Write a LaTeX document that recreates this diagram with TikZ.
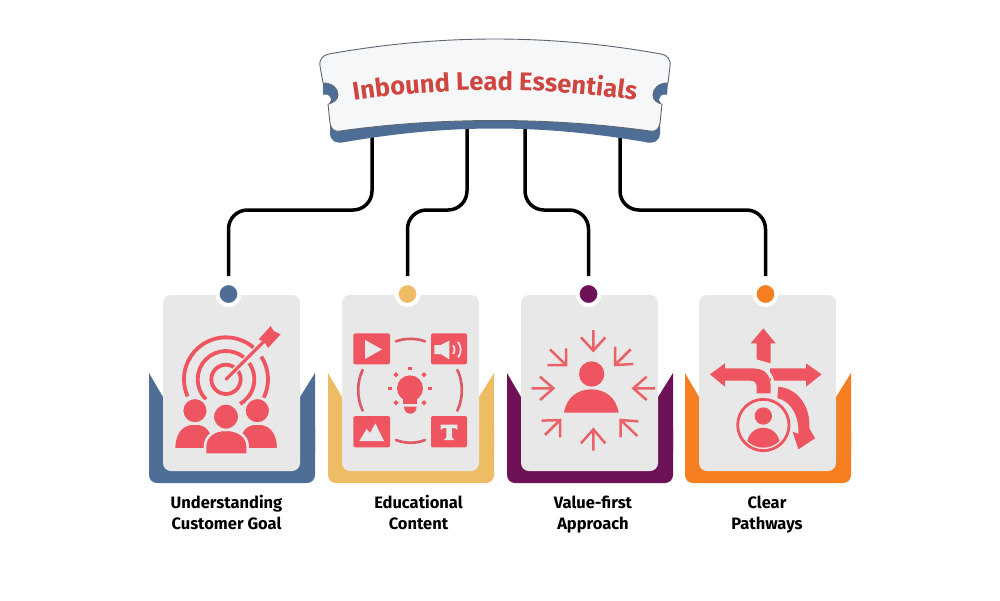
\documentclass[tikz,border=0pt]{standalone}
\usepackage{fontspec}
\setmainfont{Fira Sans}
\usetikzlibrary{decorations.text}
\definecolor{iconred}{HTML}{EF5560}
\definecolor{arrowred}{HTML}{EA6268}
\definecolor{titlered}{HTML}{CF4540}
\definecolor{cardgray}{HTML}{E8E8E8}
\definecolor{goalblue}{HTML}{4F6E96}
\definecolor{contentyellow}{HTML}{EFBC66}
\definecolor{valuepurple}{HTML}{6E1258}
\definecolor{pathorange}{HTML}{F57F20}
\definecolor{bannerfill}{HTML}{F6F7F8}
\definecolor{banneredge}{HTML}{5C6570}
\tikzset{
dotmark/.style={circle, draw=white, line width=4pt, minimum size=22pt, inner sep=0pt},
caption/.style={align=center, font=\fontsize{16.5}{21}\selectfont\bfseries},
icon/.style={fill=iconred},
iconcut/.style={fill=iconred, draw=cardgray, line width=2.6pt},
ring/.style={draw=iconred, line width=3.8pt},
thinring/.style={draw=iconred!85!gray, line width=2.7pt, line cap=round},
inarrow/.style={draw=arrowred, line width=2.5pt},
gapshape/.style={fill=cardgray},
zoomed/.style={x=0.33333pt, y=-0.33333pt}
      }
\tikzstyle{link} = [line width=3.5pt, black, rounded corners=19pt, shorten >=5pt]

\begin{document}
\begin{tikzpicture}[x=1pt, y=-1pt]
    \useasboundingbox (0,0) rectangle (1000,600);
    \fill[white] (0,0) rectangle (1000,600);
    % cards
    \foreach \n/\x/\d/\c in {1/163/228.5/goalblue, 2/342/407.5/contentyellow, 3/521/588.5/valuepurple, 4/699/765.5/pathorange} {
        \fill[\c, rounded corners=8pt] (\x-14,420) rectangle (\x+152,483);
        \fill[\c] (\x-14,373) -- (\x-14,450) -- (\x+152,450) -- (\x+152,373) -- (\x+137,397) -- (\x,397) -- cycle;
        \fill[cardgray, rounded corners=8pt] (\x,295) rectangle (\x+137,471);
        \node[dotmark, fill=\c] (dot\n) at (\d,294) {};
    }
    % connectors
    \coordinate (top1) at (372,125);
    \coordinate (top2) at (467,115);
    \coordinate (top3) at (525,115);
    \coordinate (top4) at (620,125);
    \coordinate (bendy) at (0,210);
    \foreach \n in {1,...,4}
        \draw[link] (top\n) |- (bendy -| dot\n) -- (dot\n.north);
    % banner
    \fill[goalblue] (323,83) -- (323,95) -- (330,104) -- (330,134) .. controls (331,142) and (337,144) .. (345,142) .. controls (450,124) and (540,124) .. (645,142) .. controls (653,144) and (659,142) .. (660,134) -- (660,104) -- (667,95) -- (668,83) -- cycle;
    \draw[banneredge, fill=bannerfill, line width=0.9pt] (320,66) .. controls (319,59) and (323,55) .. (329,54) .. controls (440,34) and (550,34) .. (661,54) .. controls (667,55) and (671,59) .. (670,66) -- (668,83) .. controls (659,83) and (653,88) .. (653,95) .. controls (653,100) and (657,103) .. (662,104) -- (660,123) .. controls (659,129) and (656,132) .. (650,131) .. controls (550,117) and (440,117) .. (340,131) .. controls (334,132) and (331,129) .. (330,123) -- (328,104) .. controls (333,103) and (338,100) .. (338,95) .. controls (338,88) and (332,83) .. (323,83) -- cycle;
    \fill[white] (325,99.5) ellipse[x radius=6, y radius=5];
    \fill[white] (665,99.5) ellipse[x radius=6, y radius=5];
    \path[decorate, decoration={text along path, text align=center,
        text={|\fontsize{25.5}{26}\selectfont\bfseries\color{titlered}|Inbound Lead Essentials}}]
        (340,103) .. controls (440,86) and (550,86) .. (650,103);
    % target icon
    \begin{scope}[shift={(140,280)}, zoomed]
        \coordinate (aim) at (258,298);
        \draw[ring] ([shift={(156:126)}]aim) arc (156:313:126);
        \draw[ring] ([shift={(327:126)}]aim) arc (327:386:126);
        \draw[ring] ([shift={(135:85)}]aim) arc (135:310:85);
        \draw[ring] ([shift={(325:85)}]aim) arc (325:420:85);
        \draw[ring] ([shift={(325:44)}]aim) arc (325:665:44);
        \draw[draw=cardgray, line width=6pt] (aim) -- (372,184);
        \draw[draw=iconred, line width=3.2pt, line cap=round] (aim) -- (375,181);
        \fill[icon] (356,178) -- (392,138) -- (401,153) -- (422,163) -- (384,204) -- (374,186) -- cycle;
        \path[iconcut] (102,508) .. controls (102,450) and (130,430) .. (165,430) .. controls (200,430) and (222,450) .. (222,508) -- cycle;
        \path[iconcut] (415,508) .. controls (415,450) and (387,430) .. (352,430) .. controls (317,430) and (295,450) .. (295,508) -- cycle;
        \path[iconcut] (165,392) circle[radius=39];
        \path[iconcut] (352,392) circle[radius=39];
        \path[iconcut] (195,524) -- (195,500) .. controls (195,466) and (225,449) .. (258,449) .. controls (292,449) and (323,466) .. (323,500) -- (323,524) -- cycle;
        \path[iconcut] (258,410) circle[radius=40];
    \end{scope}
    % content icon
    \begin{scope}[shift={(320,280)}, zoomed]
        \fill[icon, rounded corners=2pt] (100,160) rectangle (210,253);
        \fill[icon, rounded corners=2pt] (333,160) rectangle (441,253);
        \fill[icon, rounded corners=2pt] (100,408) rectangle (210,502);
        \fill[icon, rounded corners=2pt] (333,408) rectangle (441,502);
        \fill[gapshape] (135,180) -- (135,237) -- (186,208) -- cycle;
        \fill[gapshape] (343,195) -- (362,195) -- (388,182) -- (388,238) -- (362,222) -- (343,222) -- cycle;
        \draw[cardgray, line width=1.8pt] (399,196) .. controls (405,203) and (405,215) .. (399,222);
        \draw[cardgray, line width=1.8pt] (414,186) .. controls (425,200) and (425,218) .. (414,232);
        \fill[gapshape] (118,483) -- (140,447) -- (150,459) -- (166,430) -- (192,483) -- cycle;
        \fill[gapshape] (362,434) -- (412,434) -- (412,450) -- (404,444) -- (396,444) -- (396,472) -- (403,480) -- (372,480) -- (379,472) -- (379,444) -- (370,444) -- (362,450) -- cycle;
        \draw[thinring] (228,184) .. controls (255,174) and (288,174) .. (315,184);
        \draw[thinring] (228,480) .. controls (255,491) and (288,491) .. (315,480);
        \draw[thinring] (128,270) .. controls (110,305) and (110,355) .. (128,392);
        \draw[thinring] (412,270) .. controls (430,305) and (430,355) .. (412,392);
        \fill[icon] (270,325) circle[radius=39];
        \fill[icon] (250,350) rectangle (290,372);
        \fill[icon] (252,380) -- (290,380) .. controls (290,395) and (280,401) .. (271,401) .. controls (262,401) and (252,395) .. (252,380) -- cycle;
        \foreach \rx/\ry in {270/265, 210/325, 330/325}
            \fill[icon] (\rx-7,\ry-5) rectangle (\rx+7,\ry+5);
        \foreach \rx/\ry in {228/284, 312/284, 228/368, 312/368}
            \fill[icon] (\rx-8,\ry) -- (\rx,\ry-8) -- (\rx+8,\ry) -- (\rx,\ry+8) -- cycle;
    \end{scope}
    % value icon
    \begin{scope}[shift={(500,280)}, zoomed]
        \fill[icon] (275,282) circle[radius=38];
        \fill[icon] (192,398) .. controls (200,350) and (235,328) .. (274,328) .. controls (313,328) and (348,350) .. (356,398) -- cycle;
        \draw[inarrow] (280,150) -- (280,212) (243,172) -- (280,212) -- (316,172);
        \draw[inarrow] (280,512) -- (280,448) (243,490) -- (280,448) -- (316,490);
        \draw[inarrow] (95,325) -- (160,325) (120,290) -- (160,325) -- (120,360);
        \draw[inarrow] (465,325) -- (400,325) (440,290) -- (400,325) -- (440,360);
        \draw[inarrow] (150,208) -- (198,255) (198,205) -- (198,255) -- (142,255);
        \draw[inarrow] (392,208) -- (345,255) (345,200) -- (345,255) -- (400,252);
        \draw[inarrow] (135,465) -- (180,420) (125,422) -- (180,420) -- (180,472);
        \draw[inarrow] (412,468) -- (362,420) (415,424) -- (362,420) -- (362,472);
    \end{scope}
    % pathway icon
    \begin{scope}[shift={(680,280)}, zoomed]
        \fill[icon] (250,145) -- (287,190) -- (272,190) -- (272,250) -- (230,238) -- (230,190) -- (212,190) -- cycle;
        \fill[icon] (425,283) -- (378,320) -- (378,302) -- (270,302) -- (270,265) -- (378,265) -- (378,250) -- cycle;
        \fill[icon] (90,283) -- (135,250) -- (135,265) -- (220,265) .. controls (255,265) and (272,285) .. (272,320) -- (272,340) -- (230,340) -- (230,320) .. controls (230,308) and (222,302) .. (210,302) -- (135,302) -- (135,320) -- cycle;
        \draw[cardgray, line width=2.6pt] (225,261) .. controls (262,263) and (280,285) .. (280,320) -- (280,345);
        \fill[icon] (295,320) .. controls (350,325) and (392,375) .. (388,445) -- (405,475) -- (355,508) -- (338,455) -- (355,462) .. controls (358,410) and (335,365) .. (292,354) -- cycle;
        \draw[iconred, fill=cardgray, line width=2.8pt] (250,435) circle[radius=77];
        \fill[icon] (250,408) circle[radius=26];
        \begin{scope}
            \clip (250,435) circle[radius=68];
            \fill[icon] (250,492) ellipse[x radius=49, y radius=49];
        \end{scope}
    \end{scope}
    % captions
    \node[caption] (goal) at (226.5,515) {Understanding\strut\\Customer Goal\strut};
    \node[caption] (content) at (418.5,515) {Educational\strut\\Content\strut};
    \node[caption] (value) at (593,515) {Value-first\strut\\Approach\strut};
    \node[caption] (paths) at (767,515) {Clear\strut\\Pathways\strut};
\end{tikzpicture}
\end{document}
